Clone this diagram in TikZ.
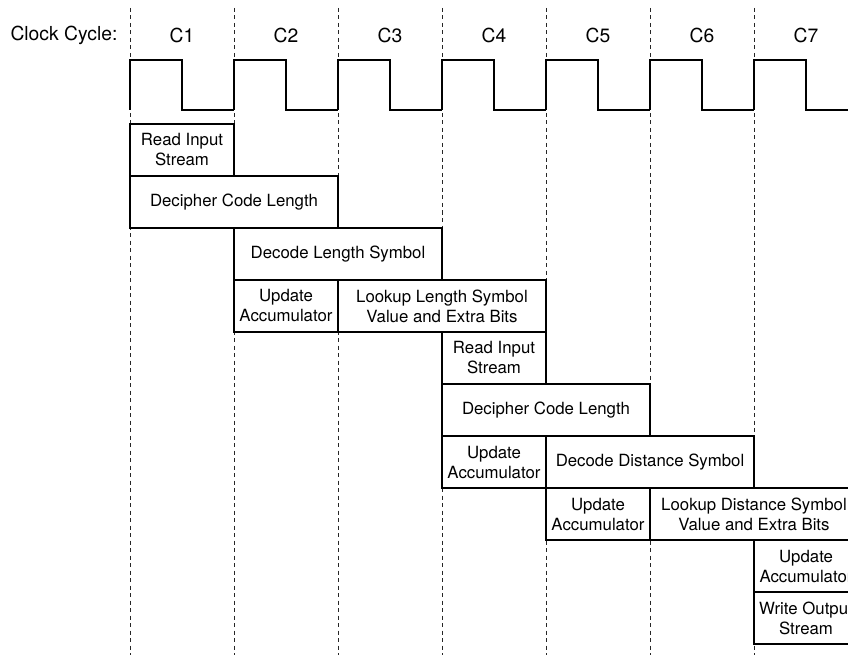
\documentclass[tikz,border=0pt]{standalone}
\usepackage{fontspec}
\setmainfont{TeX Gyre Heros}
\begin{document}
\begin{tikzpicture}[x=1pt,y=-1pt,
	every node/.style={font=\fontsize{16.8}{20}\selectfont},
	cycle/.style={font=\fontsize{19.3}{22}\selectfont},
	stage/.style={draw,fill=white,line width=1.1pt,align=center,
		inner sep=0pt,minimum height=52pt,minimum width=104pt},
	wide/.style={stage,minimum width=208pt},
	grid/.style={dash pattern=on 4pt off 3.5pt,line width=0.9pt,black!85}]
	\clip (0,0) rectangle (848,655);
	\node[cycle,anchor=east] (clk) at (121,35) {Clock Cycle:};
	\foreach \i in {1,...,7}{
		\draw[grid] ({26+104*\i},8) -- ({26+104*\i},655);
		\node[cycle] (c\i) at ({78+104*\i},35) {C\i};
		\draw[line width=1.1pt] ({26+104*\i},110) -- ({26+104*\i},60)
			-- ({78+104*\i},60) -- ({78+104*\i},110) -- ({130+104*\i},110);
	}
	\node[stage] (rd1) at (182,150) {Read Input\\Stream};
	\node[wide] (dc1) at (234,202) {Decipher Code Length};
	\node[wide] (dl) at (338,254) {Decode Length Symbol};
	\node[stage] (ua1) at (286,306) {Update\\Accumulator};
	\node[wide] (ll) at (442,306) {Lookup Length Symbol\\Value and Extra Bits};
	\node[stage] (rd2) at (494,358) {Read Input\\Stream};
	\node[wide] (dc2) at (546,410) {Decipher Code Length};
	\node[stage] (ua2) at (494,462) {Update\\Accumulator};
	\node[wide] (dd) at (650,462) {Decode Distance Symbol};
	\node[stage] (ua3) at (598,514) {Update\\Accumulator};
	\node[wide] (ld) at (754,514) {Lookup Distance Symbol\\Value and Extra Bits};
	\node[stage] (ua4) at (806,566) {Update\\Accumulator};
	\node[stage] (wo) at (806,618) {Write Output\\Stream};
\end{tikzpicture}
\end{document}
